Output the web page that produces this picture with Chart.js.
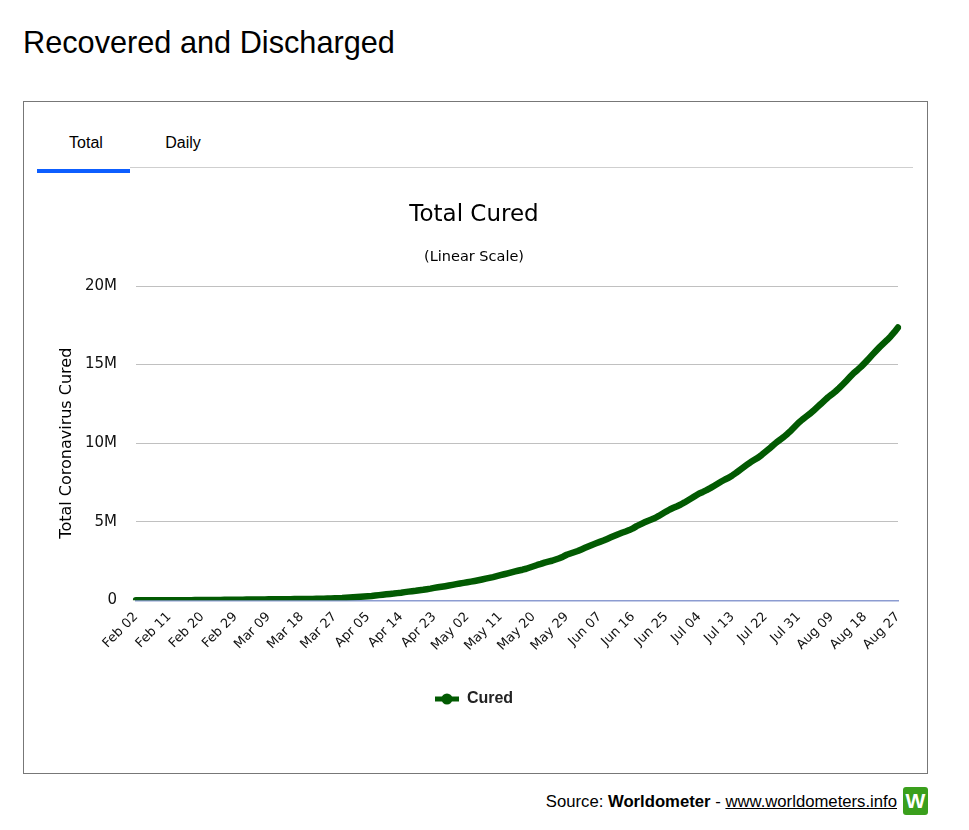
<!DOCTYPE html>
<html>
<head>
<meta charset="utf-8">
<title>Recovered and Discharged</title>
<script src="https://cdn.jsdelivr.net/npm/chart.js@4.4.1/dist/chart.umd.min.js"></script>
<style>
  body { margin: 0; background: #fff; font-family: "Liberation Sans", Arial, sans-serif; }
  .page { position: relative; width: 969px; height: 830px; }
  .heading { position: absolute; left: 23px; top: 27px; font-size: 30.7px; line-height: 31px; color: #000; }
  .box { position: absolute; left: 23px; top: 101px; width: 905px; height: 673px; box-sizing: border-box; border: 1px solid #777; }
  .tab { position: absolute; top: 134px; font-size: 16px; color: #000; width: 94px; text-align: center; }
  .tab-line { position: absolute; left: 130px; top: 167px; width: 783px; height: 1px; background: #cfcfcf; }
  .tab-active { position: absolute; left: 37px; top: 169px; width: 93px; height: 4px; background: #0d5eff; }
  .chart-wrap { position: absolute; left: 30px; top: 185px; width: 890px; height: 565px; }
  .source { position: absolute; right: 72px; top: 792px; font-size: 16.7px; color: #000; }
  .source a { color: #000; }
  .logo { position: absolute; left: 903px; top: 787px; width: 25px; height: 28px; background: #3a9f1c; border-radius: 3px;
          color: #fff; font: bold 21px "Liberation Sans", Arial, sans-serif; text-align: center; line-height: 28px; }
</style>
</head>
<body>
<div class="page">
  <div class="heading">Recovered and Discharged</div>
  <div class="box"></div>
  <div class="tab" style="left:39px">Total</div>
  <div class="tab" style="left:136px">Daily</div>
  <div class="tab-line"></div>
  <div class="tab-active"></div>
  <div class="chart-wrap"><canvas id="myChart" width="890" height="565"></canvas></div>
  <div class="source">Source: <b>Worldometer</b> - <a href="#">www.worldometers.info</a></div>
  <div class="logo">W</div>
</div>
<script>
// months shown on the x axis, with first and last day of each
const months = ['Feb', 'Mar', 'Apr', 'May', 'Jun', 'Jul', 'Aug'];
const firstDays = [2, 1, 1, 1, 1, 1, 1];
const lastDays = [29, 31, 30, 31, 30, 31, 27];
const tickEvery = 9;

// total cured, thousands, one value per day
const curedFeb = [0.5, 0.6, 0.9, 1.1, 1.5, 2.0, 2.6, 3.2, 3.9, 4.7, 5.2, 6.3, 8.1, 9.4,
  10.9, 12.6, 14.4, 16.1, 18.2, 18.9, 22.9, 23.4, 25.2, 27.9, 30.4, 33.3, 36.7, 39.8];
const curedMar = [42.7, 45.6, 48.2, 51.2, 53.8, 55.9, 58.4, 60.7, 62.5, 64.4, 67.0, 68.3, 70.3, 72.6,
  76.0, 78.1, 80.8, 83.2, 84.9, 87.3, 91.7, 97.2, 101.0, 107.7, 113.8, 122.2, 130.9, 139.4, 149.1, 164.6, 178.0];
const curedApr = [193, 210, 226, 246, 262, 280, 305, 333, 360, 385, 410, 432, 460, 488, 522,
  556, 583, 610, 645, 672, 708, 745, 790, 830, 865, 900, 940, 985, 1030, 1075];
const curedMay = [1110, 1150, 1190, 1230, 1275, 1325, 1380, 1430, 1480, 1540, 1600, 1660, 1720, 1780, 1840,
  1900, 1950, 2010, 2090, 2170, 2250, 2320, 2400, 2460, 2520, 2600, 2680, 2780, 2900, 2980, 3060];
const curedJun = [3140, 3240, 3340, 3440, 3540, 3630, 3720, 3810, 3910, 4010, 4110, 4210, 4300, 4380, 4470,
  4580, 4720, 4830, 4950, 5050, 5140, 5240, 5370, 5510, 5650, 5780, 5890, 5990, 6100, 6230];
const curedJul = [6370, 6510, 6660, 6800, 6900, 7010, 7140, 7280, 7420, 7560, 7690, 7800, 7950, 8110, 8290,
  8460, 8630, 8800, 8940, 9080, 9260, 9450, 9640, 9850, 10050, 10230, 10400, 10600, 10820, 11060, 11300];
const curedAug = [11500, 11680, 11860, 12060, 12280, 12490, 12710, 12920, 13100, 13290, 13500, 13730, 13970, 14220,
  14460, 14660, 14870, 15110, 15360, 15620, 15870, 16110, 16330, 16550, 16790, 17060, 17360];

const yTicks = [0, 5000, 10000, 15000, 20000];

let labels = [];
months.forEach((m, k) => {
  for (let d = firstDays[k]; d <= lastDays[k]; d++) {
    labels.push(m + ' ' + String(d).padStart(2, '0'));
  }
});
const cured = [].concat(curedFeb, curedMar, curedApr, curedMay, curedJun, curedJul, curedAug);

const green = '#025a02';

// legend marker: thick line with a dot, like the original
const marker = document.createElement('canvas');
marker.width = 24;
marker.height = 12;
const mctx = marker.getContext('2d');
mctx.strokeStyle = green;
mctx.fillStyle = green;
mctx.lineWidth = 5;
mctx.beginPath();
mctx.moveTo(0, 6);
mctx.lineTo(24, 6);
mctx.stroke();
mctx.beginPath();
mctx.arc(12, 6, 5.5, 0, Math.PI * 2);
mctx.fill();

Chart.defaults.font.family = '"DejaVu Sans", Verdana, sans-serif';
Chart.defaults.color = '#000';

const ctx = document.getElementById('myChart').getContext('2d');
let myChart = new Chart(ctx, {
  type: 'line',
  data: {
    labels: labels,
    datasets: [{
      label: 'Cured',
      data: cured,
      borderColor: green,
      backgroundColor: green,
      borderWidth: 6.5,
      borderCapStyle: 'round',
      borderJoinStyle: 'round',
      pointRadius: 0,
      tension: 0
    }]
  },
  options: {
    responsive: false,
    animation: false,
    layout: { padding: { left: 20, right: 22, top: 0, bottom: 33 } },
    plugins: {
      title: {
        display: true,
        text: 'Total Cured',
        font: { size: 23, weight: 'normal' },
        padding: { top: 16.5, bottom: 19 }
      },
      subtitle: {
        display: true,
        text: '(Linear Scale)',
        font: { size: 14.5 },
        padding: { top: 0, bottom: 20.5 }
      },
      legend: {
        position: 'bottom',
        labels: {
          usePointStyle: true,
          pointStyleWidth: 24,
          color: '#222',
          font: { family: '"Liberation Sans", Arial, sans-serif', size: 16, weight: 'bold' },
          generateLabels: (chart) => {
            const items = Chart.defaults.plugins.legend.labels.generateLabels(chart);
            items.forEach((it) => { it.pointStyle = marker; });
            return items;
          }
        }
      },
      tooltip: { enabled: false }
    },
    scales: {
      x: {
        afterFit: (scale) => { scale.height += 18; },
        grid: { display: false, drawTicks: false },
        border: { display: true, color: '#8c9cd1', width: 1.5 },
        ticks: {
          autoSkip: false,
          minRotation: 45,
          maxRotation: 45,
          padding: 9,
          color: '#111',
          font: { size: 13 },
          callback: (v, i) => (i % tickEvery === 0 ? labels[i] : '')
        }
      },
      y: {
        min: 0,
        max: 20000,
        afterFit: (scale) => { scale.width = 86; },
        afterBuildTicks: (scale) => { scale.ticks = yTicks.map((v) => ({ value: v })); },
        grid: {
          drawTicks: false,
          color: (c) => (c.tick && c.tick.value === 0 ? 'rgba(0,0,0,0)' : '#c0c0c0')
        },
        border: { display: false },
        ticks: {
          padding: 19,
          color: '#111',
          font: { size: 15 },
          callback: (v) => (v === 0 ? '0' : v / 1000 + 'M')
        },
        title: {
          display: true,
          text: 'Total Coronavirus Cured',
          font: { size: 16 },
          padding: { top: 7, bottom: 0 }
        }
      }
    }
  }
});
</script>
</body>
</html>
